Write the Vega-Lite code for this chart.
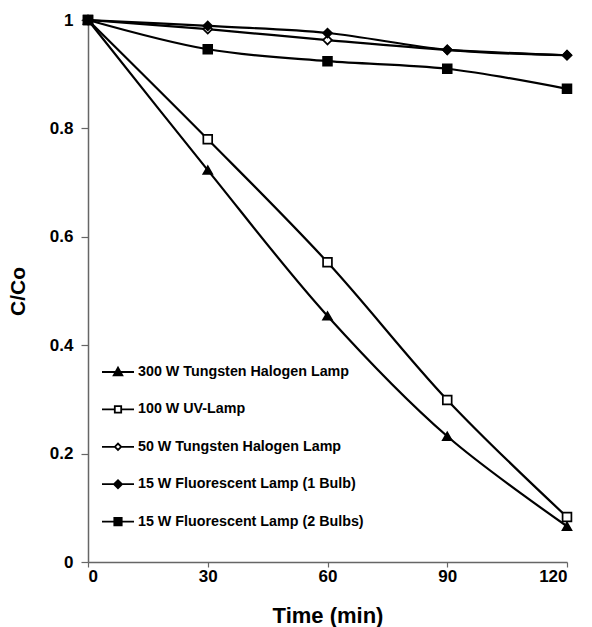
{
  "$schema": "https://vega.github.io/schema/vega-lite/v6.json",
  "width": 479,
  "height": 542,
  "autosize": "none",
  "padding": {"left": 88, "top": 20, "right": 25, "bottom": 65},
  "background": "white",
  "config": {
    "view": {"stroke": null},
    "font": "Liberation Sans",
    "axis": {
      "grid": false,
      "domainColor": "#666666",
      "domainWidth": 1.5,
      "tickColor": "#666666",
      "tickWidth": 1.2,
      "labelFont": "Liberation Sans",
      "labelFontWeight": "bold",
      "labelFontSize": 17,
      "labelColor": "black",
      "titleFont": "Liberation Sans",
      "titleFontWeight": "bold",
      "titleColor": "black"
    }
  },
  "data": {
    "values": [
      {"t": 0, "c": 1, "s": "300 W Tungsten Halogen Lamp"},
      {"t": 30, "c": 0.723, "s": "300 W Tungsten Halogen Lamp"},
      {"t": 60, "c": 0.454, "s": "300 W Tungsten Halogen Lamp"},
      {"t": 90, "c": 0.232, "s": "300 W Tungsten Halogen Lamp"},
      {"t": 120, "c": 0.066, "s": "300 W Tungsten Halogen Lamp"},
      {"t": 0, "c": 1, "s": "100 W UV-Lamp"},
      {"t": 30, "c": 0.780, "s": "100 W UV-Lamp"},
      {"t": 60, "c": 0.553, "s": "100 W UV-Lamp"},
      {"t": 90, "c": 0.299, "s": "100 W UV-Lamp"},
      {"t": 120, "c": 0.083, "s": "100 W UV-Lamp"},
      {"t": 0, "c": 1, "s": "50 W Tungsten Halogen Lamp"},
      {"t": 30, "c": 0.983, "s": "50 W Tungsten Halogen Lamp"},
      {"t": 60, "c": 0.963, "s": "50 W Tungsten Halogen Lamp"},
      {"t": 90, "c": 0.945, "s": "50 W Tungsten Halogen Lamp"},
      {"t": 120, "c": 0.935, "s": "50 W Tungsten Halogen Lamp"},
      {"t": 0, "c": 1, "s": "15 W Fluorescent Lamp (1 Bulb)"},
      {"t": 30, "c": 0.989, "s": "15 W Fluorescent Lamp (1 Bulb)"},
      {"t": 60, "c": 0.976, "s": "15 W Fluorescent Lamp (1 Bulb)"},
      {"t": 90, "c": 0.945, "s": "15 W Fluorescent Lamp (1 Bulb)"},
      {"t": 120, "c": 0.935, "s": "15 W Fluorescent Lamp (1 Bulb)"},
      {"t": 0, "c": 1, "s": "15 W Fluorescent Lamp (2 Bulbs)"},
      {"t": 30, "c": 0.946, "s": "15 W Fluorescent Lamp (2 Bulbs)"},
      {"t": 60, "c": 0.924, "s": "15 W Fluorescent Lamp (2 Bulbs)"},
      {"t": 90, "c": 0.910, "s": "15 W Fluorescent Lamp (2 Bulbs)"},
      {"t": 120, "c": 0.873, "s": "15 W Fluorescent Lamp (2 Bulbs)"}
    ]
  },
  "encoding": {
    "x": {
      "field": "t", "type": "quantitative",
      "scale": {"domain": [0, 120], "nice": false},
      "axis": {"values": [0, 30, 60, 90, 120], "title": "Time (min)", "titleFontSize": 22, "titlePadding": 21, "labelPadding": 1, "tickSize": 5}
    },
    "y": {
      "field": "c", "type": "quantitative",
      "scale": {"domain": [0, 1], "nice": false},
      "axis": {"values": [0, 0.2, 0.4, 0.6, 0.8, 1], "format": "~g", "title": "C/Co", "titleFontSize": 21, "titlePadding": 21, "labelPadding": 8, "tickSize": 7}
    }
  },
  "layer": [
    {
      "mark": {"type": "line", "color": "black", "strokeWidth": 2.2, "interpolate": "catmull-rom"},
      "encoding": {"detail": {"field": "s", "type": "nominal"}}
    },
    {
      "mark": {"type": "point", "stroke": "black", "strokeWidth": 1.7, "opacity": 1, "filled": false},
      "encoding": {
        "shape": {
          "field": "s", "type": "nominal", "legend": null,
          "scale": {
            "domain": ["300 W Tungsten Halogen Lamp", "100 W UV-Lamp", "50 W Tungsten Halogen Lamp", "15 W Fluorescent Lamp (1 Bulb)", "15 W Fluorescent Lamp (2 Bulbs)"],
            "range": ["triangle-up", "square", "diamond", "diamond", "square"]
          }
        },
        "fill": {
          "field": "s", "type": "nominal", "legend": null,
          "scale": {
            "domain": ["300 W Tungsten Halogen Lamp", "100 W UV-Lamp", "50 W Tungsten Halogen Lamp", "15 W Fluorescent Lamp (1 Bulb)", "15 W Fluorescent Lamp (2 Bulbs)"],
            "range": ["black", "white", "white", "black", "black"]
          }
        },
        "size": {"value": 78}
      }
    },
    {
      "transform": [{"filter": "datum.t < 0"}],
      "mark": {"type": "point", "stroke": "black", "strokeWidth": 1.8, "opacity": 1, "filled": false},
      "encoding": {
        "shape": {
          "field": "s", "type": "nominal",
          "scale": {
            "domain": ["300 W Tungsten Halogen Lamp", "100 W UV-Lamp", "50 W Tungsten Halogen Lamp", "15 W Fluorescent Lamp (1 Bulb)", "15 W Fluorescent Lamp (2 Bulbs)"],
            "range": [
              "M-1,0H1M-0.27,0.21L0,-0.27L0.27,0.21Z",
              "M-1,0H-0.2M0.2,0H1M-0.2,-0.2H0.2V0.2H-0.2Z",
              "M-1,0H-0.2M0.2,0H1M-0.2,0L0,-0.2L0.2,0L0,0.2Z",
              "M-1,0H1M-0.25,0L0,-0.25L0.25,0L0,0.25Z",
              "M-1,0H1M-0.23,-0.23H0.23V0.23H-0.23Z"
            ]
          },
          "legend": {
            "title": null,
            "orient": "none",
            "legendX": 13,
            "legendY": 335,
            "padding": 0,
            "symbolSize": 1024,
            "symbolStrokeWidth": 1.8,
            "symbolStrokeColor": "black",
            "rowPadding": 12.4,
            "labelOffset": 3,
            "labelFont": "Liberation Sans",
            "labelFontWeight": "bold",
            "labelFontSize": 14.3,
            "labelColor": "black",
            "labelLimit": 400,
            "encoding": {
              "symbols": {
                "stroke": {"value": "black"},
                "strokeWidth": {"value": 1.8},
                "size": {"value": 1024},
                "opacity": {"value": 1}
              }
            }
          }
        },
        "fill": {
          "field": "s", "type": "nominal",
          "scale": {
            "domain": ["300 W Tungsten Halogen Lamp", "100 W UV-Lamp", "50 W Tungsten Halogen Lamp", "15 W Fluorescent Lamp (1 Bulb)", "15 W Fluorescent Lamp (2 Bulbs)"],
            "range": ["black", "white", "white", "black", "black"]
          }
        },
        "size": {"value": 1024}
      }
    }
  ],
  "resolve": {"scale": {"shape": "independent", "fill": "independent"}, "legend": {"shape": "independent", "fill": "independent"}}
}
